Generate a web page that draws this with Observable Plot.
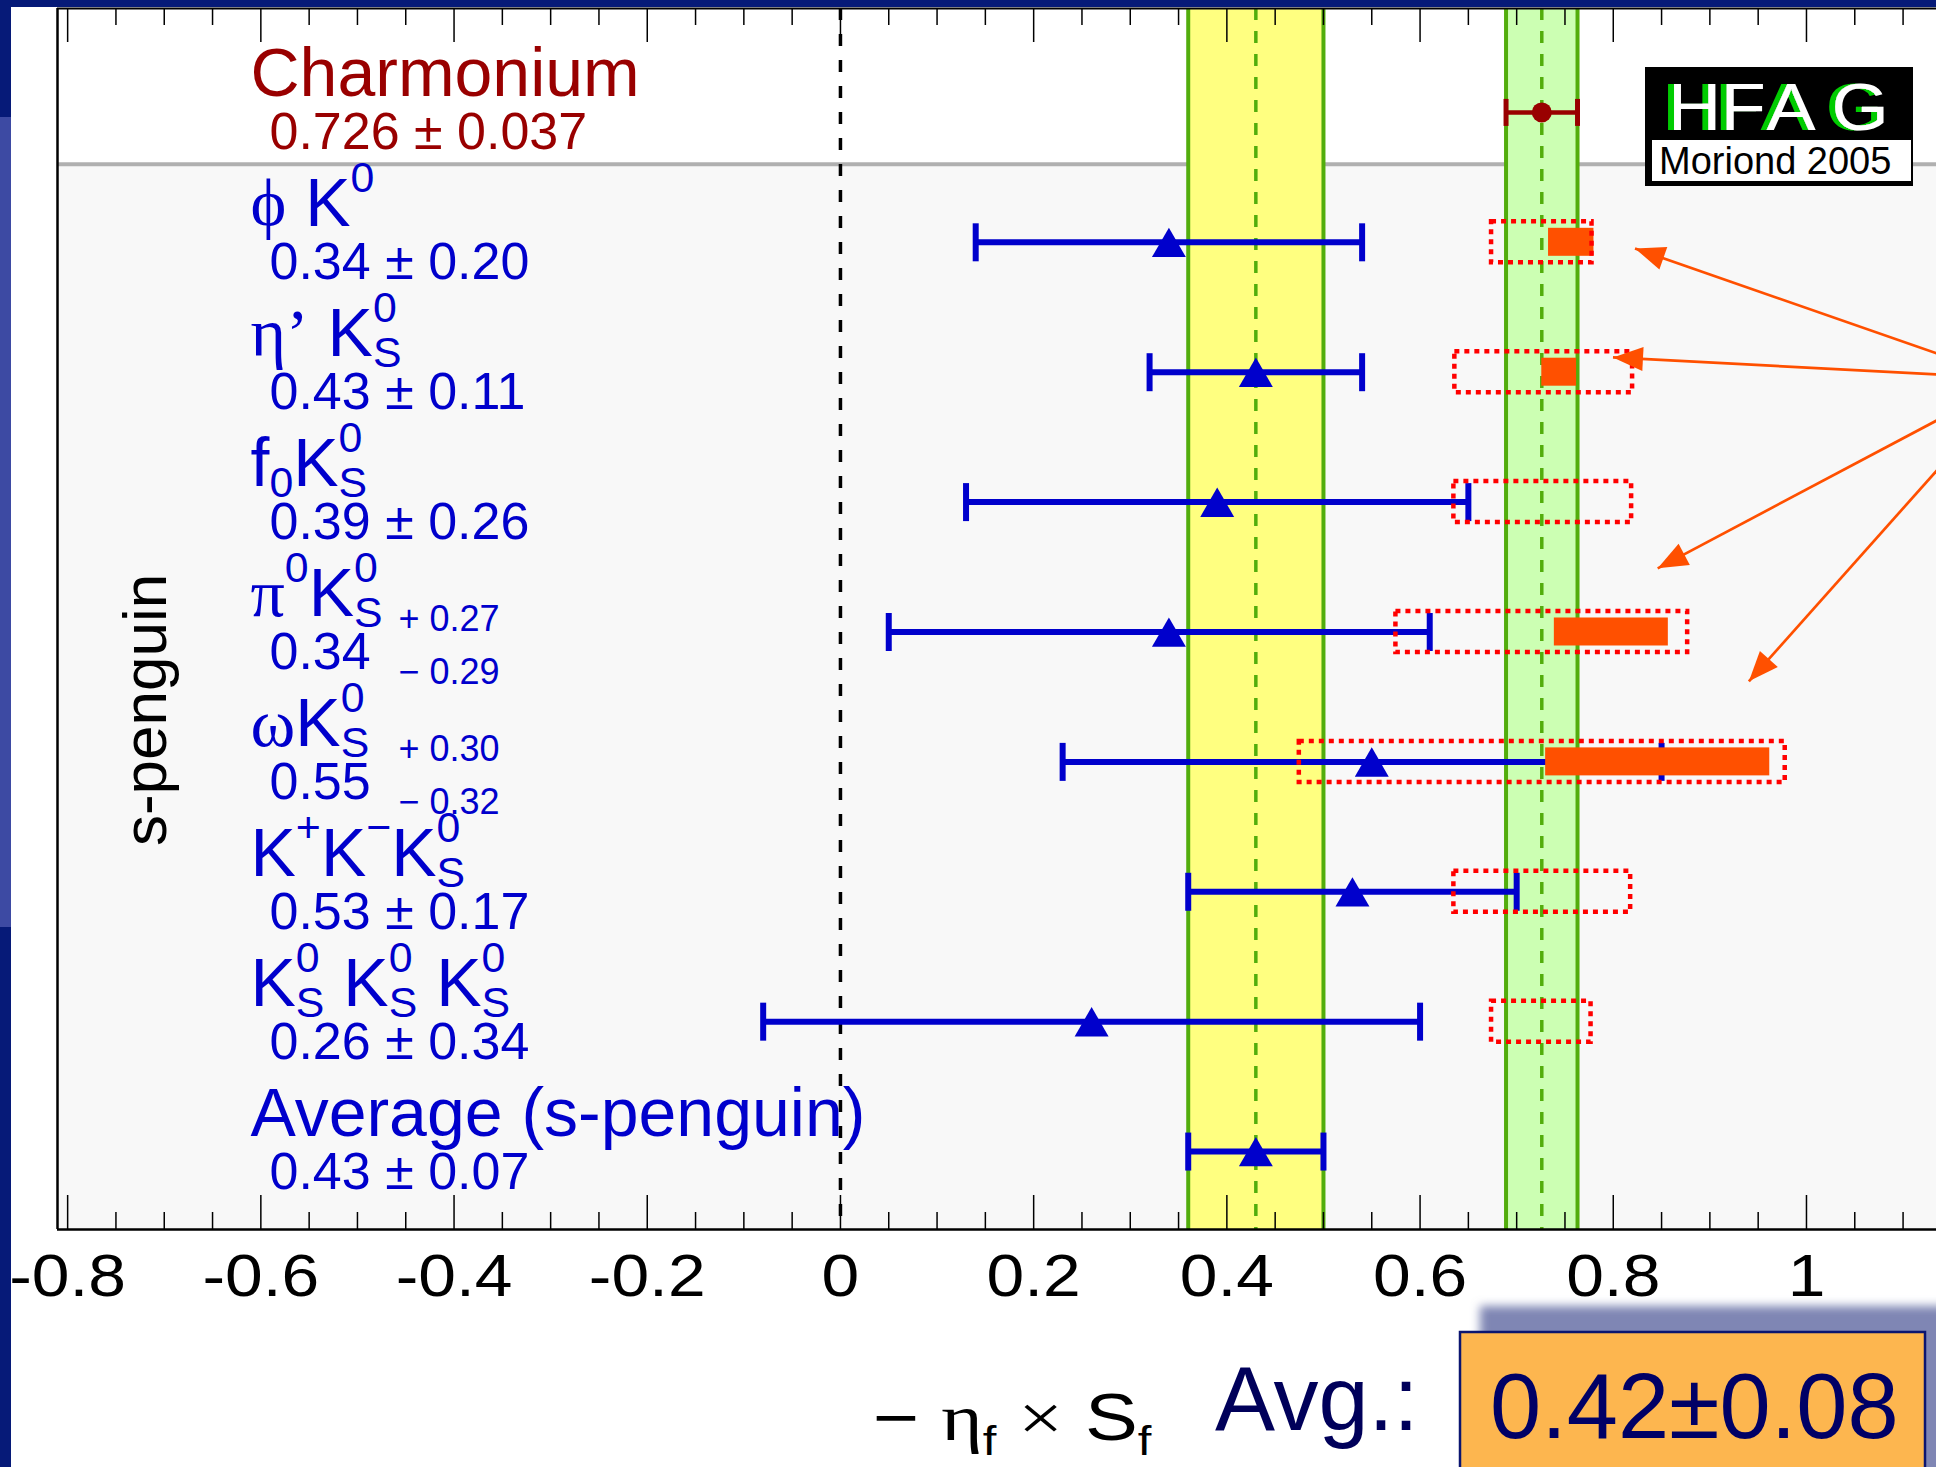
<!DOCTYPE html>
<html><head><meta charset="utf-8">
<script src="https://cdn.jsdelivr.net/npm/d3@7"></script>
<script src="https://cdn.jsdelivr.net/npm/@observablehq/plot@0.6"></script>
<style>
html,body{margin:0;padding:0;background:#fff;overflow:hidden;}
#wrap{position:relative;width:1936px;height:1467px;}
#wrap > svg{position:absolute;left:0;top:0;}
</style></head><body><div id="wrap"></div>
<script>
// ---------------- data ----------------
const rows = [0, 1, 2, 3, 4, 5, 6, 7, 8];
const modeLabels = ["Charmonium", "ϕ K^{0}", "η’ K^{0}_{S}", "f_{0}K^{0}_{S}", "π^{0}K^{0}_{S}", "ωK^{0}_{S}", "K^{+}K^{−}K^{0}_{S}", "K^{0}_{S} K^{0}_{S} K^{0}_{S}", "Average (s-penguin)"];
const centralValues = [0.726, 0.34, 0.43, 0.39, 0.34, 0.55, 0.53, 0.26, 0.43];
const errorsPlus  = [0.037, 0.20, 0.11, 0.26, 0.27, 0.30, 0.17, 0.34, 0.07];
const errorsMinus = [0.037, 0.20, 0.11, 0.26, 0.29, 0.32, 0.17, 0.34, 0.07];
const valueLabels = ["0.726 ± 0.037", "0.34 ± 0.20", "0.43 ± 0.11", "0.39 ± 0.26", "0.34", "0.55", "0.53 ± 0.17", "0.26 ± 0.34", "0.43 ± 0.07"];
const asymRows = [4, 5];
const asymPlusLabels = ["+ 0.27", "+ 0.30"];
const asymMinusLabels = ["− 0.29", "− 0.32"];
// theory bounds (red dotted boxes)
const boundRows = [1, 2, 3, 4, 5, 6, 7];
const boundLow  = [0.674, 0.636, 0.635, 0.575, 0.475, 0.635, 0.674];
const boundHigh = [0.778, 0.820, 0.819, 0.877, 0.978, 0.818, 0.777];
// predictions (orange filled boxes)
const predRows = [1, 2, 4, 5];
const predLow  = [0.733, 0.726, 0.739, 0.730];
const predHigh = [0.780, 0.762, 0.857, 0.962];
// annotation arrows
const arrowFromX = [1.135, 1.135, 1.135, 1.135];
const arrowFromY = [1.855, 2.017, 2.371, 2.756];
const arrowToX = [0.8225, 0.7997, 0.846, 0.9404];
const arrowToY = [1.047, 1.886, 3.51, 4.38];
// axis
const majorTicks = [-0.8, -0.6, -0.4, -0.2, 0, 0.2, 0.4, 0.6, 0.8, 1];
const tickLabels = ["-0.8", "-0.6", "-0.4", "-0.2", "0", "0.2", "0.4", "0.6", "0.8", "1"];
const minorTicks = d3.range(-16, 24).filter(k => k % 4 !== 0).map(k => k * 0.05);
const sectionSplit = 0.4;

// ---------------- layout / style ----------------
const W = 1936, H = 1467;
const mL = 57, mR = 0, mT = 8, mB = 238;
const xDomain = [-0.8105, 1.1346];
const yDomain = [8.6, -0.8];
const frameH = H - mT - mB;
const rowStep = frameH / (yDomain[0] - yDomain[1]);
const BLUE = "#0000cc", DRED = "#990000", ORANGE = "#ff5000", GREEN = "#52ad0c";
const SANS = "'Liberation Sans', Arial, Helvetica, sans-serif";
const SERIF = "'Liberation Serif', 'DejaVu Serif', serif";

const allRows = rows.map(i => ({
  i, v: centralValues[i],
  lo: centralValues[i] - errorsMinus[i], hi: centralValues[i] + errorsPlus[i],
  name: modeLabels[i], val: valueLabels[i], color: i === 0 ? DRED : BLUE
}));
const charm = allRows[0];
const avg = allRows[8];
const spRows = allRows.filter(d => d.i > 0);
const capsOf = rs => rs.flatMap(d => [{i: d.i, x: d.lo}, {i: d.i, x: d.hi}]);
const bands = [
  {lo: charm.lo, hi: charm.hi, c: charm.v, fill: "#ccffb3"},
  {lo: avg.lo, hi: avg.hi, c: avg.v, fill: "#ffff80"}
];
const bounds = boundRows.map((i, k) => ({i, lo: boundLow[k], hi: boundHigh[k]}));
const preds = predRows.map((i, k) => ({i, lo: predLow[k], hi: predHigh[k]}));
const arrows = arrowFromX.map((x, k) => ({x1: x, y1: arrowFromY[k], x2: arrowToX[k], y2: arrowToY[k]}));
const asymPlus = asymRows.map((i, k) => ({i, t: asymPlusLabels[k]}));
const asymMinus = asymRows.map((i, k) => ({i, t: asymMinusLabels[k]}));
const sections = [{y1: yDomain[1], y2: sectionSplit, fill: "#ffffff"}, {y1: sectionSplit, y2: yDomain[0], fill: "#f8f8f8"}];

const capSymbol = {draw(ctx, size) { const r = Math.sqrt(size / Math.PI); ctx.moveTo(0, -r); ctx.lineTo(0, r); }};

const plot = Plot.plot({
  width: W, height: H,
  marginLeft: mL, marginRight: mR, marginTop: mT, marginBottom: mB,
  x: {domain: xDomain},
  y: {domain: yDomain, axis: null},
  color: {type: "identity"},
  style: {fontFamily: SANS, background: "transparent", overflow: "visible"},
  marks: [
    Plot.rect(sections, {x1: () => xDomain[0], x2: () => xDomain[1], y1: "y1", y2: "y2", fill: "fill"}),
    Plot.ruleY([sectionSplit], {stroke: "#b0b0b0", strokeWidth: 4}),
    Plot.rect(bands, {x1: "lo", x2: "hi", y1: () => yDomain[0], y2: () => yDomain[1], fill: "fill"}),
    Plot.ruleX(bands.flatMap(b => [b.lo, b.hi]), {stroke: GREEN, strokeWidth: 4}),
    Plot.ruleX(bands, {x: "c", stroke: GREEN, strokeWidth: 3.5, strokeDasharray: "12 11"}),
    Plot.ruleX([0], {stroke: "black", strokeWidth: 3.5, strokeDasharray: "12 14"}),
    // frame
    Plot.ruleX([xDomain[0]], {stroke: "black", strokeWidth: 2.5}),
    Plot.ruleY([yDomain[0]], {stroke: "black", strokeWidth: 2.5}),
    Plot.ruleY([yDomain[1]], {stroke: "black", strokeWidth: 2}),
    // ticks (inward, bottom and top)
    Plot.tickX(majorTicks, {x: d => d, insetTop: frameH - 34, stroke: "black", strokeWidth: 1.5}),
    Plot.tickX(minorTicks, {x: d => d, insetTop: frameH - 17, stroke: "black", strokeWidth: 1.5}),
    Plot.tickX(majorTicks, {x: d => d, insetBottom: frameH - 34, stroke: "black", strokeWidth: 1.5}),
    Plot.tickX(minorTicks, {x: d => d, insetBottom: frameH - 17, stroke: "black", strokeWidth: 1.5}),
    Plot.axisX(majorTicks, {anchor: "bottom", tickSize: 0, tickPadding: 24, fontSize: 60, label: null,
      tickFormat: d => tickLabels[majorTicks.indexOf(d)], fill: "black"}),
    // error bars
    Plot.ruleY([charm], {y: "i", x1: "lo", x2: "hi", stroke: DRED, strokeWidth: 4.5}),
    Plot.ruleY(spRows, {y: "i", x1: "lo", x2: "hi", stroke: BLUE, strokeWidth: 6}),
    Plot.dot(capsOf([charm]), {x: "x", y: "i", symbol: capSymbol, r: 13.5, stroke: DRED, strokeWidth: 5, fill: "none"}),
    Plot.dot(capsOf(spRows), {x: "x", y: "i", symbol: capSymbol, r: 19, stroke: BLUE, strokeWidth: 6, fill: "none"}),
    Plot.dot(spRows, {x: "v", y: "i", symbol: "triangle", r: 12.6, fill: BLUE, dy: 5}),
    Plot.dot([charm], {x: "v", y: "i", r: 10, fill: DRED}),
    // predictions and bounds
    Plot.rect(preds, {x1: "lo", x2: "hi", y1: d => d.i - 0.5, y2: d => d.i + 0.5,
      insetTop: (rowStep - 28) / 2, insetBottom: (rowStep - 28) / 2, fill: ORANGE}),
    Plot.rect(bounds, {x1: "lo", x2: "hi", y1: d => d.i - 0.5, y2: d => d.i + 0.5,
      insetTop: (rowStep - 41) / 2, insetBottom: (rowStep - 41) / 2, fill: "none",
      stroke: "#ff0000", strokeWidth: 4.5, strokeDasharray: "5 5"}),
    Plot.link(arrows, {x1: "x1", y1: "y1", x2: "x2", y2: "y2", stroke: ORANGE, strokeWidth: 2.7, markerEnd: "arrow"}),
    // labels
    Plot.text(allRows, {frameAnchor: "left", dx: 193, y: "i", dy: -16, text: "name", fill: "color",
      fontSize: 68, textAnchor: "start", lineAnchor: "bottom"}),
    Plot.text(allRows, {frameAnchor: "left", dx: 212, y: "i", dy: 37, text: "val", fill: "color",
      fontSize: 52, textAnchor: "start", lineAnchor: "bottom"}),
    Plot.text(asymPlus, {frameAnchor: "left", dx: 341, y: "i", dy: -1, text: "t", fill: BLUE,
      fontSize: 36, textAnchor: "start", lineAnchor: "bottom"}),
    Plot.text(asymMinus, {frameAnchor: "left", dx: 341, y: "i", dy: 52, text: "t", fill: BLUE,
      fontSize: 36, textAnchor: "start", lineAnchor: "bottom"}),
    Plot.text(["s-penguin"], {frameAnchor: "left", dx: 89, y: () => d3.mean(spRows, d => d.i), dy: 13,
      rotate: -90, fontSize: 62, fill: "black", textAnchor: "middle"}),
    Plot.text(["− η_{f} × S_{f}"], {frameAnchor: "bottom", dx: -124, dy: 210, textAnchor: "start",
      lineAnchor: "bottom", fontSize: 66, fill: "black"})
  ]
});
document.getElementById("wrap").appendChild(plot);

// ---------- rich text (sub/superscripts) ----------
const NS = "http://www.w3.org/2000/svg";
function parseRich(src) {
  const tokens = []; let buf = ""; let i = 0;
  while (i < src.length) {
    const c = src[i];
    if ((c === "^" || c === "_") && src[i + 1] === "{") {
      if (buf) { tokens.push({kind: "n", text: buf}); buf = ""; }
      const j = src.indexOf("}", i + 2);
      tokens.push({kind: c === "^" ? "sup" : "sub", text: src.slice(i + 2, j)});
      i = j + 1;
    } else { buf += c; i++; }
  }
  if (buf) tokens.push({kind: "n", text: buf});
  return tokens;
}
function runs(text) {
  const out = []; const re = /[\u0370-\u03FF×’]/;
  for (const ch of text) {
    const g = re.test(ch);
    if (out.length && out[out.length - 1].greek === g) out[out.length - 1].text += ch;
    else out.push({text: ch, greek: g});
  }
  return out;
}
function richify(t, base, opt) {
  const tokens = parseRich(t.textContent);
  while (t.firstChild) t.removeChild(t.firstChild);
  const add = (text, x, y, size, greek) => {
    const ts = document.createElementNS(NS, "tspan");
    ts.setAttribute("x", x); ts.setAttribute("y", y);
    ts.setAttribute("font-size", size);
    if (greek) ts.setAttribute("font-family", SERIF);
    ts.textContent = text; t.appendChild(ts);
    return ts.getComputedTextLength();
  };
  let x = 0, last = null;
  for (const tk of tokens) {
    if (tk.kind === "n") {
      if (last) { x = Math.max(x, last.endX); last = null; }
      for (const r of runs(tk.text)) x += add(r.text, x, 0, base, r.greek);
    } else {
      const stacked = last && last.kind !== tk.kind;
      const sx = stacked ? last.startX : x;
      const y = (tk.kind === "sup" ? opt.sup : opt.sub) * base;
      const w = add(tk.text, sx, y, base * opt.small, false);
      const end = sx + w;
      last = {kind: tk.kind, startX: sx, endX: stacked ? Math.max(end, last.endX) : end};
      x = last.endX;
    }
  }
}
function stretch(t, k) {
  const tr = t.getAttribute("transform");
  if (tr) t.setAttribute("transform", tr + ` scale(${k},1)`);
}
plot.querySelectorAll("text").forEach(t => {
  const s = t.textContent;
  const fs = parseFloat(getComputedStyle(t).fontSize);
  if (s.includes("^{") || s.includes("_{")) {
    if (s.startsWith("−")) {
      richify(t, fs, {sup: -0.5, sub: 0.24, small: 0.62});
      stretch(t, 1.2);
    } else {
      richify(t, fs, {sup: -0.5, sub: 0.16, small: 0.63});
    }
  } else if (fs === 60 && tickLabels.includes(s)) {
    stretch(t, 1.13);
  } else if (/[\u0370-\u03FF’]/.test(s)) {
    richify(t, fs, {sup: -0.5, sub: 0.16, small: 0.63});
  }
});
// filled arrow heads
plot.querySelectorAll("marker").forEach(m => {
  const color = m.getAttribute("stroke") || ORANGE;
  m.setAttribute("viewBox", "-10 -5 10 10");
  m.setAttribute("markerUnits", "userSpaceOnUse");
  m.setAttribute("markerWidth", 30);
  m.setAttribute("markerHeight", 30);
  m.setAttribute("fill", color);
  m.setAttribute("stroke", "none");
  m.setAttribute("overflow", "visible");
  const p = m.querySelector("path");
  if (p) p.setAttribute("d", "M-10,-4L0,0L-10,4Z");
});

// ---------- slide decorations (overlay) ----------
const ov = d3.create("svg").attr("width", W).attr("height", H)
  .attr("font-family", SANS).style("pointer-events", "none");
const defs = ov.append("defs");
defs.append("filter").attr("id", "blur").attr("x", "-20%").attr("y", "-20%").attr("width", "140%").attr("height", "140%")
  .append("feGaussianBlur").attr("stdDeviation", 5);
const sh = defs.append("filter").attr("id", "greenShadow").attr("x", "-10%").attr("y", "-10%").attr("width", "120%").attr("height", "120%");
sh.append("feOffset").attr("in", "SourceAlpha").attr("dx", -5).attr("dy", 0).attr("result", "off");
sh.append("feFlood").attr("flood-color", "#00cc00").attr("result", "g");
sh.append("feComposite").attr("in", "g").attr("in2", "off").attr("operator", "in").attr("result", "shadow");
const mg = sh.append("feMerge");
mg.append("feMergeNode").attr("in", "shadow");
mg.append("feMergeNode").attr("in", "SourceGraphic");

ov.append("rect").attr("x", 0).attr("y", 0).attr("width", W).attr("height", 7).attr("fill", "#061a78");
ov.append("rect").attr("x", 0).attr("y", 0).attr("width", 11).attr("height", H).attr("fill", "#061a78");
ov.append("rect").attr("x", 0).attr("y", 117).attr("width", 11).attr("height", 810).attr("fill", "#3d4aa3");
// HFAG logo
ov.append("rect").attr("x", 1645).attr("y", 67).attr("width", 268).attr("height", 119).attr("fill", "black");
ov.append("rect").attr("x", 1652).attr("y", 140).attr("width", 259).attr("height", 41).attr("fill", "white");
ov.append("text").attr("transform", "translate(1668,130) scale(1.12,1)").attr("x", "0 47 88 146").attr("y", 0)
  .attr("font-size", 66).attr("fill", "white").attr("filter", "url(#greenShadow)").text("HFAG");
ov.append("text").attr("x", 1659).attr("y", 174).attr("font-size", 38).attr("fill", "black").text("Moriond 2005");
// average box
ov.append("text").attr("x", 1215).attr("y", 1430).attr("font-size", 90).attr("fill", "#00005a").text("Avg.:");
ov.append("rect").attr("x", 1480).attr("y", 1306).attr("width", 470).attr("height", 200)
  .attr("fill", "#7f86b4").attr("filter", "url(#blur)");
ov.append("rect").attr("x", 1460).attr("y", 1332).attr("width", 465).attr("height", 150)
  .attr("fill", "#fdb64f").attr("stroke", "#0b1570").attr("stroke-width", 2.5);
ov.append("text").attr("x", 1490).attr("y", 1438).attr("font-size", 92).attr("fill", "#000066").text("0.42±0.08");
document.getElementById("wrap").appendChild(ov.node());
</script>
</body></html>
